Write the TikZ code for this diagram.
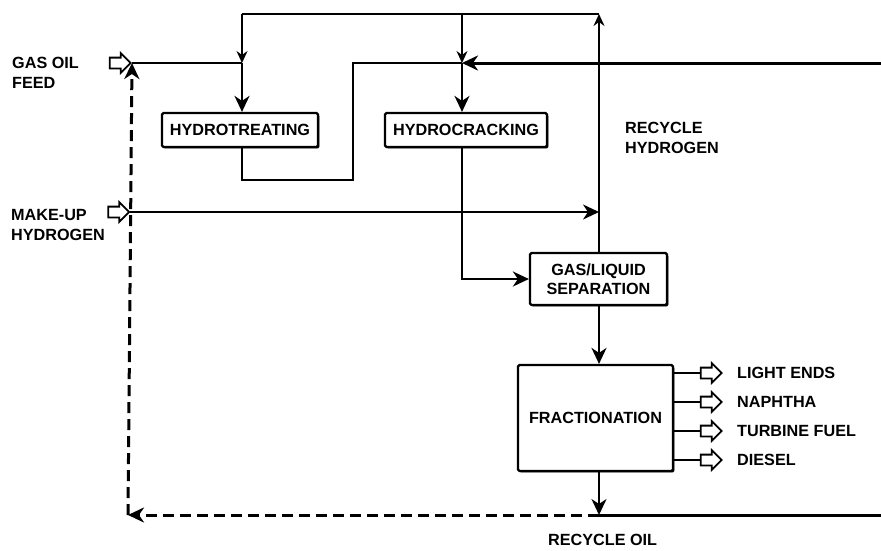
\documentclass[tikz,border=0pt]{standalone}
\usepackage{fontspec}
\setmainfont{Liberation Sans}
\usetikzlibrary{arrows.meta,shapes.arrows,shadows}

\begin{document}
\begin{tikzpicture}[
  x=1pt, y=-1pt,
  font=\fontsize{16.2}{19.5}\selectfont\bfseries,
  >={Stealth[length=16pt,width=15pt,inset=5pt]},
  thinline/.style={line width=1.5pt},
  midline/.style={line width=2.3pt},
  heavyline/.style={line width=3pt},
  smallhead/.style={-{Stealth[length=12pt,width=11pt,inset=4pt]}},
  dashline/.style={heavyline, dash pattern=on 11pt off 6pt},
  unit/.style={draw, line width=2.2pt, fill=white, rounded corners=1.5pt,
    inner sep=0pt, align=center,
    drop shadow={shadow xshift=1.4pt, shadow yshift=-1.4pt, opacity=1, fill=black}},
  openarr/.style={single arrow, draw, line width=1.8pt, fill=white, inner sep=0pt,
    minimum height=21pt, single arrow head extend=4.5pt},
  lbl/.style={inner sep=0pt, align=left, anchor=west},
]
\useasboundingbox (0,0) rectangle (881,550);

% process units
\node[unit, minimum width=156pt, minimum height=34pt] (ht)   at (240,130)   {HYDROTREATING};
\node[unit, minimum width=162pt, minimum height=34pt] (hc)   at (466,130)   {HYDROCRACKING};
\node[unit, minimum width=137pt, minimum height=52pt] (sep)  at (598.5,279) {GAS/LIQUID\\SEPARATION};
\node[unit, minimum width=155pt, minimum height=106pt] (frac) at (595.5,418) {FRACTIONATION};

% feed and product arrows (hollow block arrows)
\newcommand{\shaft}{\rule[-4.5pt]{0pt}{9pt}}
\node[openarr] (feed) at (117.5,63)  {\shaft};
\node[openarr] (mkup) at (116,212)   {\shaft};
\node[openarr] (o1)   at (708.5,373) {\shaft};
\node[openarr] (o2)   at (708.5,402) {\shaft};
\node[openarr] (o3)   at (708.5,431) {\shaft};
\node[openarr] (o4)   at (708.5,460) {\shaft};

% labels
\node[lbl] (lfeed) at (12,73)   {GAS OIL\\FEED};
\node[lbl] (lmkup) at (11,225)  {MAKE-UP\\HYDROGEN};
\node[lbl] (lrh)   at (625,138) {RECYCLE\\HYDROGEN};
\node[lbl] (l1)    at (737,373) {LIGHT ENDS};
\node[lbl] (l2)    at (737,402) {NAPHTHA};
\node[lbl] (l3)    at (737,431) {TURBINE FUEL};
\node[lbl] (l4)    at (737,460) {DIESEL};
\node[lbl] (lro)   at (548,540) {RECYCLE OIL};

% junctions and corners
\coordinate (col) at (599,0);
\coordinate (tl)  at (242,14);
\coordinate (tc)  at (462,14);
\coordinate (tr)  at (599,14);
\coordinate (jht) at (242,63);
\coordinate (jhc) at (462,63);
\coordinate (hin) at (884,63);
\coordinate (b1)  at (353,180);
\coordinate (b2)  at (353,63);
\coordinate (jmk) at (599,212);
\coordinate (jro) at (599,515);
\coordinate (rin) at (884,515);
\coordinate (rc)  at (128,515);

% recycle hydrogen loop
\draw[thinline, smallhead] (sep.north -| col) -- (tr);
\draw[thinline] (tr) -- (tl);
\draw[thinline, smallhead] (tl) -- (jht);
\draw[thinline, smallhead] (tc) -- (jhc);

% gas oil feed to hydrotreating
\draw[midline] (feed.east) -- (jht);
\draw[midline, ->] (jht) -- (ht.north -| jht);

% hydrotreater effluent and hydrogen to hydrocracking
\draw[midline] (ht.south -| jht) |- (b1) -- (b2) -- (jhc);
\draw[heavyline, ->] (hin) -- (jhc);
\draw[midline, ->] (jhc) -- (hc.north -| jhc);

% hydrocracker effluent to separation
\draw[midline, ->] (hc.south -| jhc) |- (sep.west);

% make-up hydrogen
\draw[midline, ->] (mkup.east) -- (jmk);

% separation to fractionation and bottoms
\draw[midline, ->] (sep.south -| col) -- (frac.north -| col);
\draw[midline, ->] (frac.south -| col) -- (jro);

% recycle oil
\draw[heavyline] (rin) -- (jro);
\draw[dashline, ->] (jro) -- (rc);
\draw[dashline, ->] (rc) -- (feed.east);

% products
\foreach \o in {o1,o2,o3,o4}
  \draw[midline] (frac.east |- \o) -- (\o.west);
\end{tikzpicture}
\end{document}
